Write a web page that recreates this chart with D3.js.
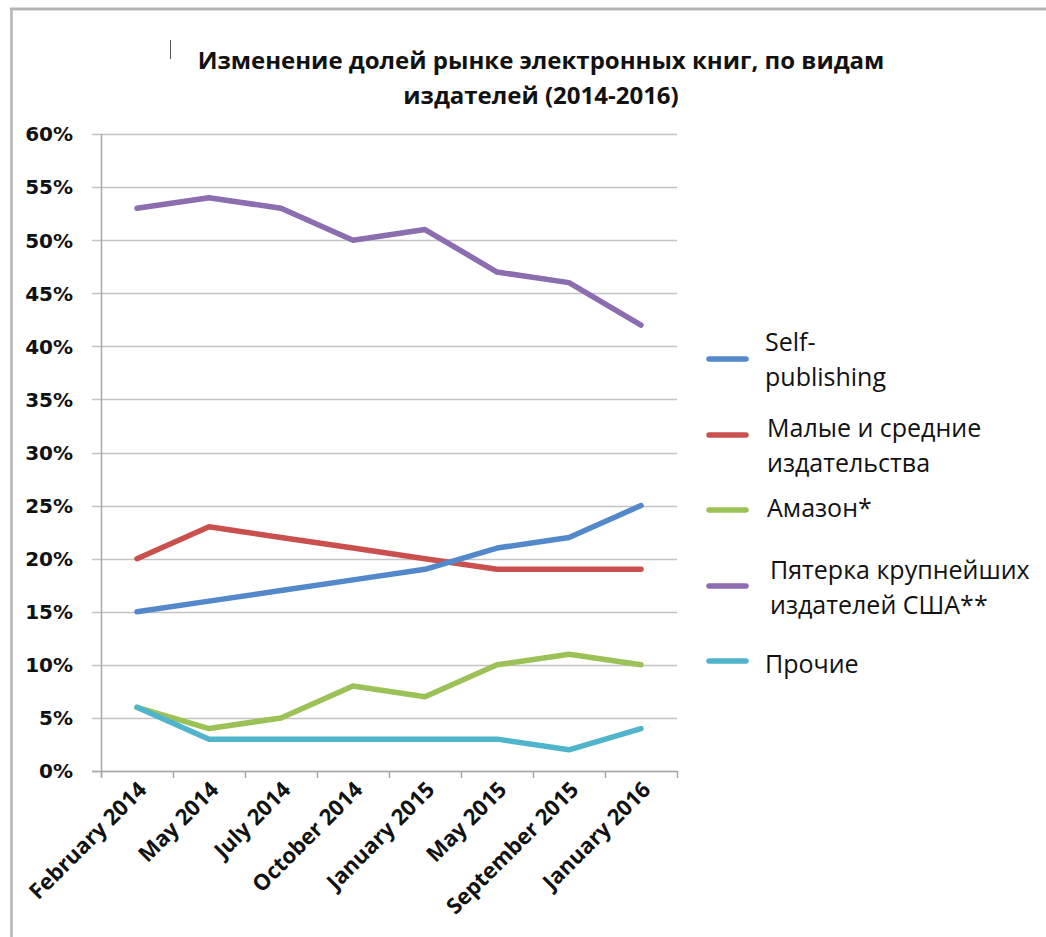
<!DOCTYPE html>
<html><head><meta charset="utf-8">
<script src="https://cdn.jsdelivr.net/npm/d3@7"></script>
<style>html,body{margin:0;padding:0;background:#fff;}svg{display:block;}</style>
</head><body>
<svg id="chart" width="1046" height="937"></svg>
<script>
const categories = ["February 2014","May 2014","July 2014","October 2014","January 2015","May 2015","September 2015","January 2016"];
const seriesNames = ["Self-publishing","Малые и средние издательства","Амазон*","Пятерка крупнейших издателей США**","Прочие"];
const selfPublishing = [15,16,17,18,19,21,22,25];
const smallMedium = [20,23,22,21,20,19,19,19];
const amazon = [6,4,5,8,7,10,11,10];
const bigFive = [53,54,53,50,51,47,46,42];
const others = [6,3,3,3,3,3,2,4];
const yTicks = [0,5,10,15,20,25,30,35,40,45,50,55,60];
const legendLines = [["Self-","publishing"],["Малые и средние","издательства"],["Амазон*"],["Пятерка крупнейших","издателей США**"],["Прочие"]];
const titleLines = ["Изменение долей рынке электронных книг, по видам","издателей (2014-2016)"];

const colors = ["#5388CB","#C9504D","#9BC157","#8B6DB0","#4FB4CC"];
const seriesData = [selfPublishing, smallMedium, amazon, bigFive, others];
const drawOrder = [3,1,0,2,4];

const svg = d3.select("#chart");

svg.append("line").attr("x1",10).attr("x2",1046).attr("y1",9).attr("y2",9).attr("stroke","#b5b5b5").attr("stroke-width",3);
svg.append("line").attr("x1",11.5).attr("x2",11.5).attr("y1",8).attr("y2",937).attr("stroke","#b5b5b5").attr("stroke-width",2.5);
svg.append("line").attr("x1",170.5).attr("x2",170.5).attr("y1",40).attr("y2",59).attr("stroke","#555").attr("stroke-width",1);

svg.append("g").selectAll("text").data(titleLines).join("text")
  .attr("x",541).attr("y",(d,i)=>69+i*35)
  .attr("text-anchor","middle")
  .attr("font-family","'Open Sans', sans-serif").attr("font-weight","bold").attr("font-size",24)
  .attr("fill","#111").text(d=>d);

const pLeft = 101, pRight = 677, pTop = 134, pBottom = 771;
const x = d3.scaleBand().domain(categories).range([pLeft,pRight]);
const y = d3.scaleLinear().domain([0,60]).range([pBottom,pTop]);

svg.append("g").selectAll("line").data(yTicks).join("line")
  .attr("x1",pLeft-9).attr("x2",pRight).attr("y1",d=>Math.round(y(d))+0.5).attr("y2",d=>Math.round(y(d))+0.5)
  .attr("stroke","#c4c4c4").attr("stroke-width",1.5);

svg.append("line").attr("x1",pLeft+0.5).attr("x2",pLeft+0.5).attr("y1",pTop).attr("y2",pBottom+6).attr("stroke","#a8a8a8").attr("stroke-width",1.5);
svg.append("line").attr("x1",pLeft-9).attr("x2",pRight).attr("y1",pBottom+0.5).attr("y2",pBottom+0.5).attr("stroke","#a8a8a8").attr("stroke-width",1.5);
const bounds = categories.map(c=>x(c)).concat([pRight]);
svg.append("g").selectAll("line").data(bounds).join("line")
  .attr("x1",d=>Math.round(d)+0.5).attr("x2",d=>Math.round(d)+0.5).attr("y1",pBottom).attr("y2",pBottom+7)
  .attr("stroke","#a8a8a8").attr("stroke-width",1.5);

svg.append("g").selectAll("text").data(yTicks).join("text")
  .attr("x",73).attr("y",d=>y(d)).attr("dy","0.37em")
  .attr("text-anchor","end")
  .attr("font-family","'DejaVu Sans', sans-serif").attr("font-weight","bold").attr("font-size",20)
  .attr("fill","#111").text(d=>d+"%");

svg.append("g").selectAll("text").data(categories).join("text")
  .attr("transform",d=>`translate(${x(d)+x.bandwidth()/2+11},${pBottom+20}) rotate(-45)`)
  .attr("text-anchor","end")
  .attr("font-family","'Open Sans', sans-serif").attr("font-weight","bold").attr("font-size",22)
  .attr("fill","#111").text(d=>d);

const line = d3.line().x((d,i)=>x(categories[i])+x.bandwidth()/2).y(d=>y(d));
svg.append("g").selectAll("path").data(drawOrder).join("path")
  .attr("d",k=>line(seriesData[k]))
  .attr("fill","none").attr("stroke",k=>colors[k]).attr("stroke-width",5.5)
  .attr("stroke-linejoin","round").attr("stroke-linecap","round");

const legendY = [359,435,510,586,661];
const lg = svg.append("g");
seriesNames.forEach((name,i)=>{
  lg.append("line").attr("x1",709).attr("x2",746).attr("y1",legendY[i]).attr("y2",legendY[i])
    .attr("stroke",colors[i]).attr("stroke-width",5.5).attr("stroke-linecap","round");
  const lines = legendLines[i];
  const t = lg.append("text").attr("font-family","'Open Sans', sans-serif").attr("font-size",25).attr("fill","#111");
  const yOff = [[-17,18],[-7,28],[-2],[-16,19],[3]][i];
  lines.forEach((ln,j)=>{
    t.append("tspan").attr("x",[765,767,767,770,765][i]).attr("y",legendY[i]+yOff[j]).attr("dy","0.36em").text(ln);
  });
});
</script>
</body></html>
